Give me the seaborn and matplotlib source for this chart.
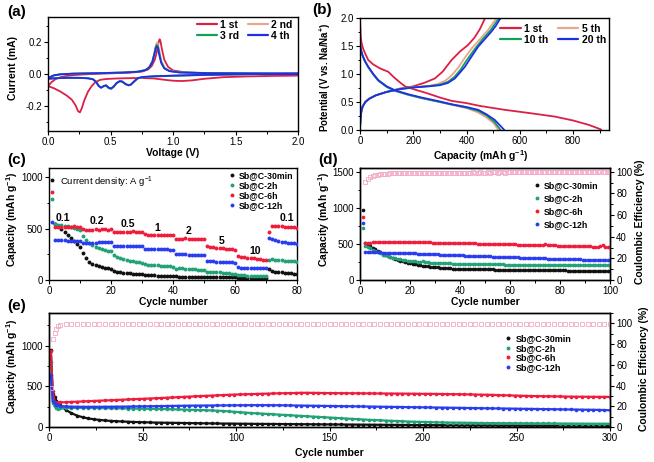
import numpy as np
import pandas as pd
import matplotlib
matplotlib.use("Agg")
import matplotlib.pyplot as plt
from matplotlib.lines import Line2D
from matplotlib.ticker import MultipleLocator
import seaborn as sns

# ---------------- data ----------------
# (a) cyclic voltammetry
cv1_cath_v = [2.0, 1.8, 1.6, 1.4, 1.25, 1.15, 1.07, 1.0, 0.93, 0.85, 0.75, 0.65, 0.55, 0.47, 0.42, 0.38,
              0.35, 0.32, 0.29, 0.27, 0.255, 0.24, 0.22, 0.19, 0.15, 0.10, 0.05, 0.0]
cv1_cath_i = [-0.010, -0.012, -0.015, -0.020, -0.030, -0.040, -0.044, -0.042, -0.036, -0.028, -0.025, -0.026,
              -0.028, -0.031, -0.036, -0.050, -0.075, -0.110, -0.165, -0.215, -0.240, -0.232, -0.195, -0.160,
              -0.135, -0.110, -0.090, -0.075]
cv1_anod_v = [0.0, 0.03, 0.06, 0.10, 0.15, 0.22, 0.35, 0.5, 0.65, 0.75, 0.80, 0.83, 0.855, 0.87, 0.885, 0.893,
              0.90, 0.91, 0.93, 0.96, 1.0, 1.1, 1.3, 1.6, 2.0]
cv1_anod_i = [-0.075, -0.050, -0.032, -0.020, -0.012, -0.006, 0.000, 0.004, 0.008, 0.015, 0.028, 0.050, 0.090,
              0.135, 0.200, 0.217, 0.205, 0.160, 0.090, 0.045, 0.022, 0.010, 0.004, 0.000, -0.005]

cv_cath_v = [2.0, 1.7, 1.4, 1.2, 1.0, 0.85, 0.76, 0.72, 0.69, 0.665, 0.645, 0.62, 0.595, 0.575, 0.55, 0.525,
             0.505, 0.485, 0.465, 0.445, 0.425, 0.405, 0.385, 0.36, 0.32, 0.25, 0.15, 0.05, 0.0]
cv2_cath_i = [0.000, -0.002, -0.005, -0.008, -0.012, -0.016, -0.020, -0.028, -0.048, -0.066, -0.072, -0.065,
              -0.050, -0.047, -0.058, -0.082, -0.095, -0.090, -0.075, -0.078, -0.084, -0.072, -0.048, -0.032,
              -0.026, -0.023, -0.023, -0.026, -0.029]
cv3_cath_i = [0.001, -0.001, -0.004, -0.007, -0.011, -0.015, -0.019, -0.026, -0.046, -0.065, -0.071, -0.063,
              -0.048, -0.045, -0.056, -0.080, -0.092, -0.087, -0.072, -0.076, -0.085, -0.074, -0.049, -0.033,
              -0.027, -0.024, -0.024, -0.027, -0.030]
cv4_cath_i = [0.002, 0.000, -0.003, -0.006, -0.010, -0.014, -0.018, -0.025, -0.045, -0.065, -0.070, -0.062,
              -0.047, -0.044, -0.055, -0.078, -0.090, -0.085, -0.070, -0.075, -0.086, -0.075, -0.050, -0.033,
              -0.027, -0.024, -0.024, -0.027, -0.030]
cv_anod_v = [0.0, 0.02, 0.05, 0.1, 0.2, 0.4, 0.6, 0.72, 0.78, 0.81, 0.835, 0.85, 0.862, 0.87, 0.878, 0.89,
             0.905, 0.93, 0.97, 1.05, 1.3, 1.6, 2.0]
cv2_anod_i = [-0.029, -0.017, -0.007, -0.001, 0.003, 0.006, 0.010, 0.015, 0.026, 0.043, 0.080, 0.128, 0.175,
              0.195, 0.192, 0.150, 0.085, 0.040, 0.020, 0.011, 0.006, 0.004, 0.003]
cv3_anod_i = [-0.030, -0.018, -0.008, -0.002, 0.002, 0.005, 0.009, 0.015, 0.025, 0.042, 0.078, 0.125, 0.168,
              0.182, 0.178, 0.135, 0.078, 0.038, 0.019, 0.010, 0.005, 0.004, 0.003]
cv4_anod_i = [-0.030, -0.018, -0.008, -0.002, 0.002, 0.005, 0.009, 0.014, 0.024, 0.040, 0.075, 0.120, 0.160,
              0.172, 0.165, 0.120, 0.070, 0.035, 0.018, 0.010, 0.005, 0.004, 0.003]
cv_labels = ["1 st", "2 nd", "3 rd", "4 th"]

# (b) galvanostatic profiles (capacity, potential)
b1_dis_c = [0, 1, 3, 6, 12, 20, 31, 50, 75, 106, 130, 150, 169, 200, 250, 300, 344, 400, 450, 544, 640, 731,
            800, 860, 905]
b1_dis_v = [2.0, 1.85, 1.65, 1.55, 1.45, 1.36, 1.25, 1.17, 1.10, 1.04, 0.93, 0.85, 0.78, 0.73, 0.66, 0.58, 0.52,
            0.48, 0.43, 0.36, 0.30, 0.24, 0.17, 0.09, 0.01]
b1_chg_c = [0, 2, 5, 10, 20, 35, 60, 100, 150, 200, 240, 281, 310, 344, 375, 406, 430, 450, 470]
b1_chg_v = [0.05, 0.2, 0.33, 0.42, 0.50, 0.56, 0.62, 0.68, 0.74, 0.78, 0.84, 0.92, 1.04, 1.25, 1.40, 1.52,
            1.65, 1.80, 2.0]
b5_dis_c = [0, 5, 15, 31, 50, 69, 100, 131, 180, 231, 290, 344, 400, 440, 470, 500, 520]
b5_dis_v = [1.50, 1.38, 1.25, 1.12, 0.99, 0.88, 0.77, 0.70, 0.63, 0.57, 0.51, 0.45, 0.39, 0.32, 0.24, 0.13, 0.0]
b5_chg_c = [0, 2, 5, 10, 20, 35, 60, 100, 150, 200, 260, 290, 320, 345, 370, 395, 420, 450, 480, 513]
b5_chg_v = [0.05, 0.2, 0.33, 0.42, 0.50, 0.56, 0.62, 0.68, 0.735, 0.765, 0.79, 0.82, 0.88, 0.98, 1.12, 1.30,
            1.46, 1.62, 1.78, 2.0]
b10_dis_c = [0, 5, 15, 31, 50, 69, 100, 131, 180, 231, 290, 344, 400, 444, 475, 505, 528]
b10_dis_v = [1.52, 1.39, 1.26, 1.12, 0.99, 0.88, 0.77, 0.70, 0.63, 0.57, 0.51, 0.455, 0.40, 0.34, 0.26, 0.14, 0.0]
b10_chg_c = [0, 2, 5, 10, 20, 35, 60, 100, 150, 200, 260, 300, 330, 355, 378, 400, 430, 460, 490, 522]
b10_chg_v = [0.05, 0.2, 0.33, 0.42, 0.50, 0.56, 0.62, 0.68, 0.73, 0.76, 0.785, 0.81, 0.86, 0.95, 1.08, 1.24,
             1.44, 1.62, 1.78, 2.0]
b20_dis_c = [0, 3, 10, 20, 31, 50, 69, 100, 131, 180, 231, 290, 344, 400, 444, 475, 506, 530, 542]
b20_dis_v = [1.55, 1.45, 1.33, 1.22, 1.13, 1.0, 0.89, 0.78, 0.71, 0.64, 0.58, 0.52, 0.46, 0.41, 0.36, 0.28,
             0.18, 0.06, 0.0]
b20_chg_c = [0, 2, 5, 10, 20, 35, 60, 100, 150, 200, 260, 300, 330, 356, 380, 394, 420, 444, 470, 494, 510, 528]
b20_chg_v = [0.05, 0.2, 0.33, 0.42, 0.50, 0.56, 0.62, 0.68, 0.73, 0.76, 0.78, 0.80, 0.84, 0.92, 1.05, 1.13,
             1.32, 1.49, 1.63, 1.76, 1.86, 2.0]
gcd_labels = ["1 st", "5 th", "10 th", "20 th"]

# (c) rate capability, 80 cycles
series_names = ["Sb@C-30min", "Sb@C-2h", "Sb@C-6h", "Sb@C-12h"]
rate_30min = [975, 545, 525, 500, 470, 440, 410, 380, 350, 320,
              260, 210, 180, 160, 145, 135, 125, 118, 112, 105,
              85, 78, 73, 70, 67, 64, 62, 60, 58, 56,
              48, 46, 45, 44, 43, 42, 41, 40, 39, 38,
              35, 34, 34, 33, 33, 32, 32, 31, 31, 30,
              28, 28, 27, 27, 27, 26, 26, 26, 25, 25,
              22, 22, 22, 21, 21, 21, 20, 20, 20, 20,
              105, 90, 82, 77, 73, 70, 67, 65, 63, 61]
rate_2h = [790, 545, 540, 535, 530, 525, 520, 510, 500, 485,
           430, 390, 360, 340, 325, 312, 302, 294, 287, 280,
           245, 225, 212, 202, 194, 187, 181, 176, 172, 168,
           155, 150, 147, 145, 142, 140, 137, 135, 132, 130,
           110, 115, 112, 110, 108, 106, 104, 102, 100, 98,
           80, 82, 80, 78, 75, 72, 68, 64, 60, 56,
           48, 46, 44, 42, 40, 39, 38, 37, 36, 35,
           190, 200, 195, 192, 190, 188, 186, 184, 182, 180]
rate_6h = [860, 520, 520, 520, 515, 518, 520, 522, 520, 518,
           495, 490, 488, 490, 492, 490, 494, 492, 490, 495,
           465, 468, 470, 468, 472, 470, 474, 472, 470, 468,
           445, 442, 440, 442, 440, 438, 440, 438, 436, 435,
           400, 398, 400, 405, 402, 400, 398, 398, 396, 398,
           330, 325, 320, 315, 312, 308, 305, 300, 298, 295,
           235, 228, 222, 218, 214, 210, 206, 202, 198, 195,
           470, 530, 528, 525, 522, 520, 518, 515, 512, 508]
rate_12h = [560, 390, 388, 386, 385, 384, 384, 383, 383, 382,
            360, 362, 363, 364, 364, 365, 365, 365, 366, 366,
            335, 334, 333, 333, 332, 332, 332, 331, 331, 330,
            300, 300, 299, 299, 298, 298, 297, 297, 296, 296,
            252, 250, 249, 249, 248, 248, 247, 247, 246, 246,
            185, 183, 181, 179, 177, 175, 173, 172, 171, 170,
            122, 120, 119, 118, 117, 116, 115, 114, 113, 112,
            410, 395, 385, 378, 372, 368, 364, 361, 358, 355]
rate_labels = ["0.1", "0.2", "0.5", "1", "2", "5", "10", "0.1"]

# (d) cycling at 100 cycles
cyc_30min = [970,
             520, 500, 475, 450, 425, 405, 385, 365, 350,
             335, 320, 305, 292, 280, 268, 258, 248, 240, 232,
             225, 218, 212, 206, 200, 195, 190, 186, 182, 178,
             175, 172, 169, 166, 164, 162, 160, 158, 156, 155,
             154, 153, 152, 151, 151, 150, 150, 149, 149, 148,
             148, 147, 147, 146, 146, 145, 145, 144, 144, 143,
             143, 142, 142, 141, 141, 140, 140, 139, 139, 138,
             138, 137, 137, 136, 136, 135, 135, 134, 134, 133,
             133, 133, 132, 132, 132, 131, 131, 131, 130, 130,
             130, 129, 129, 129, 128, 128, 128, 128, 127, 127]
cyc_2h = [730,
          480, 460, 440, 420, 400, 385, 370, 355, 342,
          330, 320, 310, 302, 295, 288, 282, 276, 271, 266,
          262, 258, 255, 252, 258, 248, 245, 243, 241, 239,
          237, 235, 234, 232, 231, 230, 229, 228, 227, 226,
          225, 224, 223, 223, 222, 221, 221, 220, 220, 219,
          219, 218, 218, 217, 217, 216, 216, 215, 215, 215,
          214, 214, 213, 213, 213, 212, 212, 212, 211, 211,
          211, 210, 210, 210, 209, 209, 209, 208, 208, 208,
          207, 207, 207, 207, 206, 206, 206, 206, 205, 205,
          205, 205, 204, 204, 204, 204, 203, 203, 203, 203]
cyc_6h = [880,
          515, 520, 522, 524, 525, 527, 528, 528, 530,
          530, 531, 532, 532, 533, 533, 532, 532, 531, 531,
          530, 529, 528, 527, 526, 525, 524, 523, 522, 521,
          520, 519, 518, 517, 516, 516, 515, 514, 513, 513,
          512, 511, 511, 510, 509, 509, 508, 507, 507, 506,
          505, 505, 504, 503, 503, 502, 501, 500, 500, 499,
          498, 497, 490, 492, 494, 490, 489, 488, 488, 487,
          486, 485, 490, 498, 485, 483, 482, 481, 480, 479,
          478, 477, 476, 475, 474, 473, 472, 471, 470, 469,
          468, 472, 466, 465, 464, 470, 486, 462, 458, 455]
cyc_12h = [800,
           395, 392, 390, 388, 386, 385, 384, 383, 382,
           381, 380, 379, 378, 377, 376, 375, 374, 373, 372,
           371, 370, 369, 367, 366, 364, 362, 361, 359, 358,
           356, 355, 353, 352, 350, 349, 348, 346, 345, 344,
           342, 341, 340, 338, 337, 336, 334, 333, 332, 330,
           329, 328, 327, 325, 324, 323, 322, 320, 319, 318,
           317, 315, 314, 313, 312, 310, 309, 308, 307, 305,
           304, 303, 302, 301, 299, 298, 297, 296, 295, 294,
           293, 292, 291, 290, 289, 288, 287, 286, 285, 284,
           283, 282, 281, 281, 280, 279, 279, 278, 278, 277]
cyc_ce = [91, 93.5, 95, 96, 96.8, 97.3, 97.7, 98, 98.2,
          98.4, 98.5, 98.6, 98.7, 98.8, 98.8, 98.9, 98.9, 99.0, 99.0,
          99.0, 99.1, 99.1, 99.0, 99.1, 99.2, 99.1, 99.2, 99.2, 99.1,
          99.2, 99.2, 99.3, 99.2, 99.2, 99.3, 99.2, 99.3, 99.3, 99.2,
          99.3, 99.3, 99.2, 99.3, 99.4, 99.3, 99.3, 99.4, 99.3, 99.3,
          99.4, 99.3, 99.4, 99.4, 99.3, 99.4, 99.4, 99.3, 99.4, 99.4,
          99.4, 99.5, 99.4, 99.4, 99.5, 99.4, 99.4, 99.5, 99.4, 99.5,
          99.5, 99.4, 99.6, 100.2, 99.5, 99.5, 99.4, 99.5, 99.5, 99.6,
          99.5, 99.5, 99.6, 99.5, 99.5, 99.6, 99.5, 99.6, 99.6, 99.5,
          99.6, 99.6, 99.5, 99.6, 100.0, 100.3, 99.6, 99.6, 99.7, 99.6]

# (e) long cycling, 300 cycles (cycles 1-5, then every 3rd cycle from 6)
long_cycles = [1, 2, 3, 4, 5] + list(range(6, 301, 3))
long_30min = [940, 400, 370, 320, 290,
              265, 210, 170, 140, 120, 105, 95, 87, 80, 75,
              71, 68, 65, 62, 60, 58, 56, 54, 53, 52,
              51, 50, 49, 48, 47, 46, 45, 44, 43, 42,
              42, 41, 40, 40, 39, 38, 38, 37, 37, 36,
              36, 35, 35, 34, 34, 33, 33, 32, 32, 31,
              31, 30, 30, 29, 29, 28, 28, 27, 27, 26,
              26, 25, 25, 24, 24, 23, 23, 22, 22, 21,
              21, 21, 20, 20, 20, 19, 19, 19, 18, 18,
              18, 18, 17, 17, 17, 17, 16, 16, 16, 16,
              16, 15, 15, 15, 15, 15, 14, 14, 14]
long_2h = [800, 300, 255, 235, 225,
           228, 232, 234, 235, 235, 234, 233, 232, 231, 230,
           229, 228, 227, 226, 225, 224, 223, 222, 221, 220,
           218, 216, 214, 212, 210, 208, 206, 203, 200, 197,
           192, 187, 182, 177, 172, 168, 164, 160, 156, 152,
           148, 144, 140, 136, 132, 128, 124, 120, 116, 112,
           108, 104, 100, 96, 92, 88, 85, 82, 79, 76,
           73, 70, 67, 65, 63, 61, 59, 57, 56, 55,
           54, 53, 52, 51, 50, 49, 48, 48, 47, 47,
           46, 46, 45, 45, 44, 44, 43, 43, 43, 42,
           42, 42, 41, 41, 41, 40, 40, 40, 40]
long_6h = [930, 440, 310, 300, 300,
           302, 305, 308, 311, 314, 317, 320, 323, 326, 329,
           332, 335, 338, 341, 344, 347, 350, 353, 356, 360,
           363, 366, 370, 373, 376, 380, 383, 386, 389, 392,
           395, 398, 400, 402, 404, 406, 408, 410, 412, 414,
           415, 416, 418, 420, 420, 419, 418, 417, 416, 416,
           415, 415, 414, 414, 413, 413, 412, 412, 411, 411,
           410, 410, 409, 409, 408, 407, 407, 406, 405, 404,
           403, 402, 401, 400, 399, 397, 396, 394, 392, 390,
           388, 386, 384, 382, 380, 379, 378, 377, 376, 375,
           374, 373, 372, 372, 371, 371, 370, 370, 370]
long_12h = [640, 320, 290, 275, 265,
            258, 252, 250, 249, 248, 248, 248, 248, 249, 249,
            250, 250, 251, 252, 253, 254, 255, 256, 257, 258,
            259, 260, 261, 262, 263, 263, 264, 264, 265, 265,
            266, 266, 267, 267, 268, 268, 268, 268, 267, 267,
            266, 265, 264, 263, 262, 261, 260, 259, 258, 257,
            256, 255, 254, 253, 252, 251, 250, 249, 248, 247,
            246, 245, 244, 243, 242, 241, 240, 239, 238, 237,
            236, 235, 234, 233, 232, 231, 230, 229, 228, 227,
            226, 225, 224, 223, 222, 221, 220, 219, 218, 217,
            216, 215, 214, 213, 212, 211, 210, 208, 206]
long_ce = [38, 85, 91, 95, 97.5,
           98.5, 99.0, 99.2, 99.3, 99.3, 99.3, 99.2, 99.3, 99.3, 99.3,
           99.3, 99.2, 99.3, 99.3, 99.4, 99.3, 99.3, 99.2, 99.3, 99.3,
           99.3, 99.3, 99.4, 99.3, 99.3, 99.2, 99.3, 99.3, 99.3, 99.4,
           99.3, 99.3, 99.3, 99.2, 99.3, 99.3, 99.4, 99.3, 99.3, 99.3,
           99.3, 99.4, 99.3, 99.3, 99.3, 99.2, 99.3, 99.3, 99.3, 99.3,
           99.4, 99.3, 99.3, 99.3, 99.3, 99.3, 99.2, 99.3, 99.3, 99.4,
           99.3, 99.3, 99.3, 99.3, 99.4, 99.3, 99.3, 99.3, 99.2, 99.3,
           99.3, 99.3, 99.4, 99.3, 99.3, 99.3, 99.3, 99.3, 99.4, 99.3,
           99.3, 99.3, 99.3, 99.2, 99.3, 99.3, 99.4, 99.3, 99.3, 99.3,
           99.3, 99.3, 99.4, 99.3, 99.3, 99.3, 99.3, 99.3, 99.3]

# ---------------- style ----------------
sns.set_theme(style="ticks")
plt.rcParams["font.family"] = ["Liberation Sans", "DejaVu Sans"]
plt.rcParams.update({
    "axes.linewidth": 1.0,
    "xtick.direction": "out", "ytick.direction": "out",
    "xtick.major.size": 3, "ytick.major.size": 3,
    "xtick.minor.size": 1.8, "ytick.minor.size": 1.8,
    "xtick.major.width": 0.8, "ytick.major.width": 0.8,
    "xtick.minor.width": 0.7, "ytick.minor.width": 0.7,
    "xtick.labelsize": 7, "ytick.labelsize": 7,
    "xtick.major.pad": 1.5, "ytick.major.pad": 1.5,
    "axes.edgecolor": "black", "xtick.color": "black", "ytick.color": "black",
    "text.color": "black", "axes.labelcolor": "black",
    "mathtext.default": "regular",
})

W, H = 654, 462
fig = plt.figure(figsize=(W / 100, H / 100), dpi=100)
fig.patch.set_facecolor("white")


def rect(l, t, r, b):
    return [l / W, 1 - b / H, (r - l) / W, (b - t) / H]


def fxy(x, y):
    return (x / W, 1 - y / H)


LAB = dict(fontsize=7.5, fontweight="bold")

C_RED, C_SAL, C_GRN, C_BLU = "#dc1f45", "#eaa58f", "#13a055", "#1f2fe8"
S_COL = ["#111111", "#22a276", "#ef1c3c", "#2a3cf0"]
PINK = "#f2a9c6"


def style_axes(ax, xmaj, xmin, ymaj, ymin):
    ax.xaxis.set_major_locator(MultipleLocator(xmaj))
    ax.xaxis.set_minor_locator(MultipleLocator(xmin))
    ax.yaxis.set_major_locator(MultipleLocator(ymaj))
    ax.yaxis.set_minor_locator(MultipleLocator(ymin))
    for s in ax.spines.values():
        s.set_visible(True)
        s.set_linewidth(1.0)


def set_labels(ax, xl, yl, xpos, ypos, ysize=7.5):
    ax.set_xlabel(xl, **LAB)
    ax.set_ylabel(yl, fontsize=ysize, fontweight="bold")
    ax.xaxis.label.set_va("center")
    ax.yaxis.label.set_va("center")
    ax.xaxis.set_label_coords(*xpos)
    ax.yaxis.set_label_coords(*ypos)


# ---------------- (a) ----------------
axa = fig.add_axes(rect(48, 17, 298, 131))
cv_sets = [
    (cv1_cath_v + cv1_anod_v, cv1_cath_i + cv1_anod_i, C_RED),
    (cv_cath_v + cv_anod_v, cv2_cath_i + cv2_anod_i, C_SAL),
    (cv_cath_v + cv_anod_v, cv3_cath_i + cv3_anod_i, C_GRN),
    (cv_cath_v + cv_anod_v, cv4_cath_i + cv4_anod_i, C_BLU),
]
for v, i, col in cv_sets:
    sns.lineplot(x=v, y=i, sort=False, estimator=None, color=col, lw=1.3, ax=axa, legend=False)
axa.set_xlim(0, 2.0)
axa.set_ylim(-0.356, 0.356)
style_axes(axa, 0.5, 0.25, 0.2, 0.1)
axa.xaxis.set_major_formatter(matplotlib.ticker.FormatStrFormatter("%.1f"))
axa.yaxis.set_major_formatter(matplotlib.ticker.FormatStrFormatter("%.1f"))
set_labels(axa, "Voltage (V)", "Current (mA)", (0.5, -0.193), (-0.14, 0.55))
cols_a = [C_RED, C_SAL, C_GRN, C_BLU]
h = [Line2D([], [], color=c, lw=1.6) for c in cols_a]
order = [0, 2, 1, 3]
axa.legend([h[k] for k in order], [cv_labels[k] for k in order], ncol=2, loc="upper left",
           bbox_to_anchor=fxy(197, 19.5), bbox_transform=fig.transFigure, frameon=False,
           prop=dict(size=7.5, weight="bold"), handlelength=1.9, handletextpad=0.3,
           columnspacing=0.9, labelspacing=0.12, borderpad=0, borderaxespad=0)

# ---------------- (b) ----------------
axb = fig.add_axes(rect(360, 18, 609, 130))
gcd_sets = [
    (b1_dis_c, b1_dis_v, b1_chg_c, b1_chg_v, C_RED),
    (b5_dis_c, b5_dis_v, b5_chg_c, b5_chg_v, C_SAL),
    (b10_dis_c, b10_dis_v, b10_chg_c, b10_chg_v, C_GRN),
    (b20_dis_c, b20_dis_v, b20_chg_c, b20_chg_v, C_BLU),
]
for dc, dv, cc, cvv, col in gcd_sets:
    sns.lineplot(x=dc, y=dv, sort=False, estimator=None, color=col, lw=1.3, ax=axb, legend=False)
    sns.lineplot(x=cc, y=cvv, sort=False, estimator=None, color=col, lw=1.3, ax=axb, legend=False)
axb.set_xlim(0, 935)
axb.set_ylim(0, 2.0)
style_axes(axb, 200, 100, 0.5, 0.25)
axb.yaxis.set_major_formatter(matplotlib.ticker.FormatStrFormatter("%.1f"))
set_labels(axb, "Capacity (mAh g$^{-1}$)", "Potential (V vs. Na/Na$^{+}$)", (0.486, -0.229), (-0.141, 0.47),
           ysize=7)
h = [Line2D([], [], color=c, lw=1.6) for c in cols_a]
axb.legend([h[k] for k in order], [gcd_labels[k] for k in order], ncol=2, loc="upper left",
           bbox_to_anchor=fxy(500, 23.5), bbox_transform=fig.transFigure, frameon=False,
           prop=dict(size=7.5, weight="bold"), handlelength=2.0, handletextpad=0.3,
           columnspacing=0.9, labelspacing=0.12, borderpad=0, borderaxespad=0)


def dot_legend(ax, x, y, spacing, size):
    hh = [Line2D([], [], ls="", marker="o", ms=2.8, mew=0, color=c) for c in S_COL]
    ax.legend(hh, series_names, loc="upper left", bbox_to_anchor=fxy(x, y),
              bbox_transform=fig.transFigure, frameon=False, prop=dict(size=size, weight="bold"),
              handlelength=0.6, handletextpad=0.5, labelspacing=spacing, borderpad=0, borderaxespad=0)


# ---------------- (c) ----------------
axc = fig.add_axes(rect(49, 168, 297, 280))
rate_cycles = list(range(1, 81))
for vals, col in zip([rate_30min, rate_2h, rate_6h, rate_12h], S_COL):
    sns.scatterplot(x=rate_cycles, y=vals, color=col, s=8, linewidth=0, ax=axc, legend=False, zorder=3)
axc.set_xlim(0, 80)
axc.set_ylim(0, 1090)
style_axes(axc, 20, 10, 500, 250)
set_labels(axc, "Cycle number", "Capacity (mAh g$^{-1}$)", (0.5, -0.2), (-0.149, 0.54))
rate_pos = [(4.6, 605), (15.4, 571), (25.6, 546), (34.9, 507), (44.9, 480), (55.7, 382), (66.5, 284), (76.7, 605)]
for (xx, yy), t in zip(rate_pos, rate_labels):
    axc.text(xx, yy, t, ha="center", va="center", fontsize=7.5, fontweight="bold")
axc.text(3.5, 954, "Current density: A g$^{-1}$", ha="left", va="center", fontsize=6.8)
dot_legend(axc, 229, 171.5, 0.08, 6.3)

# ---------------- (d) ----------------
axd = fig.add_axes(rect(360, 168, 610, 280))
axd2 = axd.twinx()
cyc_cycles = list(range(1, 101))
for vals, col in zip([cyc_30min, cyc_2h, cyc_6h, cyc_12h], S_COL):
    sns.scatterplot(x=cyc_cycles, y=vals, color=col, s=7, linewidth=0, ax=axd, legend=False, zorder=3)
axd2.plot(list(range(2, 101)), cyc_ce, ls="", marker="s", ms=2.6, mfc="none", mec=PINK, mew=0.6)
axd.set_xlim(0, 100)
axd.set_ylim(0, 1560)
axd2.set_ylim(0, 103.5)
style_axes(axd, 20, 10, 500, 250)
axd2.yaxis.set_major_locator(MultipleLocator(20))
axd2.yaxis.set_minor_locator(MultipleLocator(10))
set_labels(axd, "Cycle number", "Capacity (mAh g$^{-1}$)", (0.5, -0.2), (-0.145, 0.54))
axd2.set_ylabel("Coulombic Efficiency (%)", **LAB)
axd2.yaxis.label.set_va("center")
axd2.yaxis.set_label_coords(1.12, 0.52)
dot_legend(axd2, 534, 181.5, 0.45, 6.3)

# ---------------- (e) ----------------
axe = fig.add_axes(rect(49, 313, 610, 427))
axe2 = axe.twinx()
for vals, col in zip([long_30min, long_2h, long_6h, long_12h], S_COL):
    sns.lineplot(x=long_cycles, y=vals, color=col, lw=1.6, marker="o", markersize=2.6,
                 markeredgewidth=0, sort=False, estimator=None, ax=axe, legend=False, zorder=3)
axe2.plot(long_cycles, long_ce, ls="", marker="s", ms=2.6, mfc="none", mec=PINK, mew=0.6)
axe.set_xlim(0, 300)
axe.set_ylim(0, 1400)
axe2.set_ylim(0, 110)
style_axes(axe, 50, 25, 500, 250)
axe2.yaxis.set_major_locator(MultipleLocator(20))
axe2.yaxis.set_minor_locator(MultipleLocator(10))
set_labels(axe, "Cycle number", "Capacity (mAh g$^{-1}$)", (0.5, -0.228), (-0.066, 0.53))
axe2.set_ylabel("Coulombic Efficiency (%)", **LAB)
axe2.yaxis.label.set_va("center")
axe2.yaxis.set_label_coords(1.06, 0.51)
dot_legend(axe2, 505.5, 334, 0.08, 6.5)

# panel labels
for t, (x, y) in zip(["(a)", "(b)", "(c)", "(d)", "(e)"],
                     [(7, 12), (312, 10), (7, 160), (318, 160), (7, 306)]):
    fig.text(*fxy(x, y), t, ha="left", va="center", fontsize=11, fontweight="bold")

fig.savefig("out.png", dpi=100, facecolor="white")
